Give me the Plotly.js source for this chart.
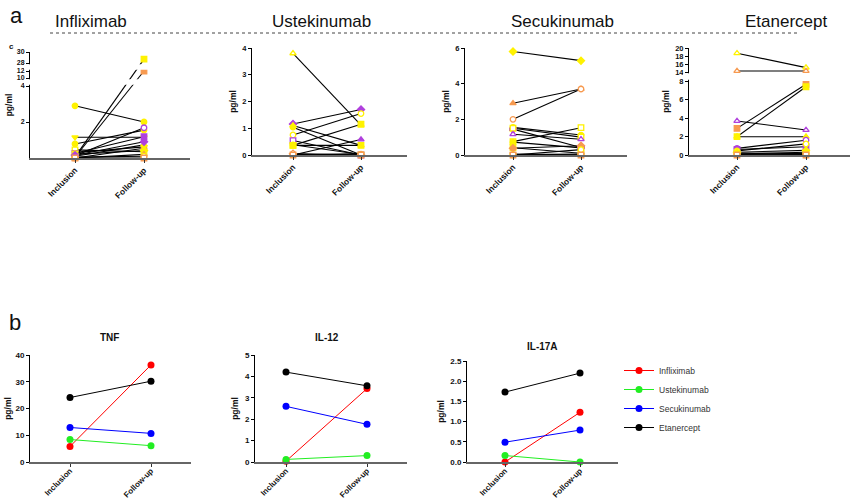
<!DOCTYPE html>
<html><head><meta charset="utf-8">
<script src="https://cdn.plot.ly/plotly-3.0.1.min.js"></script>
<style>html,body{margin:0;padding:0;background:#fff}#chart{width:851px;height:502px}</style>
</head><body><div id="chart"></div>
<script>
// ---------- DATA ----------
const timepoints = ['Inclusion', 'Follow-up'];
const drugs = ['Infliximab', 'Ustekinumab', 'Secukinumab', 'Etanercept'];

// Panel a: individual patients (pg/ml)
const inflixIncl = [2.9, 1.15, 0.78, 0.45, 0.26, 0.12, 0.06, 0.04, 0.0, 0.1, 0.2, 0.3, 0.0, 0.05, 0.15, 0.0];
const inflixFU   = [2.0, 1.15, 1.55, 0.35, 1.18, 1.68, 28.7, 12.0, 0.54, 0.73, 0.42, 0.62, 0.2, 0.1, 0.9, 0.0];
const inflixSym  = ['circle','triangle-down','circle','square','square','circle','square','square','circle','triangle-up','diamond','triangle-down','triangle-up','circle','diamond','square'];
const inflixCol  = ['y','y','y','y','p','p','y','o','o','y','y','y','o','y','p','o'];
const inflixFill = [1,1,1,0,1,0,1,1,0,1,1,1,1,0,1,0];

const usteIncl = [3.8, 1.16, 1.1, 1.04, 0.75, 0.54, 0.36, 0.36, 0.38, 0.0, 0.02, 0.0, 0.05, 0.0];
const usteFU   = [1.12, 1.7, 0.36, 0.0, 1.55, 0.0, 1.15, 0.36, 0.02, 0.58, 0.0, 0.05, 0.0, 0.0];
const usteSym  = ['triangle-up','diamond','triangle-up','circle','circle','square','square','square','circle','triangle-up','circle','triangle-down','diamond','square'];
const usteCol  = ['y','p','y','y','y','p','y','y','y','p','o','y','o','o'];
const usteFill = [0,1,1,1,0,0,1,1,1,1,1,1,0,0];

const secuIncl = [5.8, 2.9, 2.0, 1.55, 1.45, 1.5, 1.16, 0.75, 0.72, 0.41, 0.38, 0.02, 0.05, 0.0, 0.0];
const secuFU   = [5.29, 3.7, 3.7, 1.12, 0.42, 1.0, 0.88, 1.53, 0.4, 0.1, 0.52, 0.05, 0.0, 0.3, 0.0];
const secuSym  = ['diamond','triangle-up','circle','circle','cross','square','triangle-up','square','circle','square','diamond','circle','triangle-down','circle','square'];
const secuCol  = ['y','o','o','y','p','y','p','y','y','y','o','y','o','y','o'];
const secuFill = [1,1,0,1,1,0,0,0,1,1,1,1,1,0,0];

const etanIncl = [18.7, 14.25, 3.67, 2.88, 1.98, 1.98, 0.72, 0.6, 0.45, 0.3, 0.1, 0.0, 0.05, 0.2, 0.0];
const etanFU   = [15.1, 14.25, 2.7, 7.64, 7.38, 1.98, 1.6, 0.9, 1.2, 0.5, 0.3, 0.05, 0.0, 0.15, 0.0];
const etanSym  = ['triangle-up','triangle-up','triangle-up','square','square','triangle-up','circle','square','circle','diamond','circle','triangle-down','circle','square','square'];
const etanCol  = ['y','o','p','o','y','y','p','p','y','y','y','o','o','y','o'];
const etanFill = [0,0,0,1,1,1,0,1,0,1,1,1,0,1,0];

// Panel b: group values (pg/ml), order = drugs
const tnfIncl  = [5.8, 8.4, 12.9, 24.1];
const tnfFU    = [36.3, 6.1, 10.7, 30.2];
const il12Incl = [0.04, 0.12, 2.6, 4.2];
const il12FU   = [3.43, 0.3, 1.76, 3.56];
const il17Incl = [0.0, 0.16, 0.49, 1.73];
const il17FU   = [1.23, 0.0, 0.79, 2.2];
const cytokines = ['TNF', 'IL-12', 'IL-17A'];

// Axis ticks
const inflixTicks = [2, 4, 10, 12, 28, 30];
const etanTicks = [0, 2, 4, 6, 8, 14, 16, 18, 20];

// ---------- STYLE / LAYOUT ----------
const W = 851, H = 502;
const px = x => x / W, py = y => 1 - y / H;
const FONT = 'Liberation Sans, Arial, sans-serif';
const palette = {y: '#FFF200', o: '#F79A50', p: '#B040DD'};
const drugColors = ['#FF0000', '#22EE22', '#0000FF', '#000000'];

// piecewise (broken) axis scales: [value, axis position]
const inflixScale = [[0,0],[4,4],[10,4.444],[12,4.833],[28,5.278],[30,5.889]];
const etanScale = [[0,0],[8,8],[14,8.973],[20,11.568]];
const identity = [[0,0],[1,1]];
function mapper(pairs) {
  return v => {
    if (pairs === identity) return v;
    for (let i = 1; i < pairs.length; i++) {
      const [a0, b0] = pairs[i-1], [a1, b1] = pairs[i];
      if (v <= a1 || i === pairs.length - 1) return b0 + (v - a0) * (b1 - b0) / (a1 - a0);
    }
  };
}

// boxes: [left, right, top, bottom] px ; incl/fu px
const boxes = [[30,190,52,158],[252,407,48,155],[465,627,48,155],[689,850,48,155],
               [30,191,355,462],[255,407,355,462],[467,618,361,462]];
const inclPx = [75,293,513,737,70,286,505];
const fuPx   = [144,361,581,806,151,367,580];
const yTop = [5.889, 4, 6, 11.568, 40, 5, 2.5];

const layout = {
  width: W, height: H, margin: {l:0, r:0, t:0, b:0},
  paper_bgcolor: '#fff', plot_bgcolor: 'rgba(0,0,0,0)',
  showlegend: true,
  legend: {x: px(619), y: py(356), xanchor: 'left', yanchor: 'top', font: {family: FONT, size: 8.5, color: '#333'},
           bgcolor: 'rgba(0,0,0,0)', itemwidth: 30, tracegroupgap: 0},
  annotations: [], shapes: []
};

boxes.forEach((b, i) => {
  const n = i + 1;
  const unit = fuPx[i] - inclPx[i];
  const ytickfont = {family: FONT, size: i < 4 ? 7.5 : 8, weight: 'bold', color: '#111'};
  const xtickfont = {family: FONT, size: i < 4 ? 8.5 : 8, weight: 'bold', color: '#111'};
  layout['xaxis' + n] = {
    domain: [px(b[0]), px(b[1])], anchor: 'y' + n,
    range: [-(inclPx[i] - b[0]) / unit, (b[1] - inclPx[i]) / unit],
    tickvals: [0, 1], ticktext: timepoints, tickangle: -45,
    showline: true, linecolor: '#666', linewidth: 2, ticks: 'outside', ticklen: 3, tickcolor: '#333',
    ticklabelstandoff: i < 4 ? -1 : -4,
    showgrid: false, zeroline: false, tickfont: xtickfont, fixedrange: true
  };
  const ya = {
    domain: [py(b[3]), py(b[2])], anchor: 'x' + n, range: [0, yTop[i]],
    showline: true, linecolor: '#000', linewidth: 1, ticks: 'outside', ticklen: 3, tickcolor: '#000',
    showgrid: false, zeroline: false, tickfont: ytickfont, fixedrange: true,
    title: {text: 'pg/ml', font: {family: FONT, size: 8.5, weight: 'bold', color: '#111'}, standoff: i === 0 || i === 4 ? 2 : 4}
  };
  if (i === 0) { const m = mapper(inflixScale); ya.tickvals = inflixTicks.map(m); ya.ticktext = inflixTicks.map(String); ya.tickfont = Object.assign({}, ytickfont, {size: 7}); }
  else if (i === 3) { const m = mapper(etanScale); ya.tickvals = etanTicks.map(m); ya.ticktext = etanTicks.map(String); }
  else if (i === 4) ya.dtick = 10;
  else if (i === 6) { ya.dtick = 0.5; ya.tickformat = '.1f'; }
  else if (i === 2) ya.dtick = 2;
  else ya.dtick = 1;
  layout['yaxis' + n] = ya;
});

// breaks on broken axes
function addBreaks(pairs, gaps, n, i, pxPerUnit) {
  const m = mapper(pairs);
  const inset = 1.2 / pxPerUnit;
  gaps.forEach(g => {
    layout.shapes.push({type: 'rect', xref: 'paper', yref: 'y' + n,
      x0: px(boxes[i][0] - 6), x1: px(boxes[i][1]), y0: m(g[0]) + inset, y1: m(g[1]) - inset,
      fillcolor: '#fff', line: {width: 0}, layer: 'above'});
  });
}
addBreaks(inflixScale, [[4,10],[12,28]], 1, 0, 18);
addBreaks(etanScale, [[8,14]], 4, 3, 9.25);

// ---------- TRACES ----------
const traces = [];
const panelA = [
  [inflixIncl, inflixFU, inflixSym, inflixCol, inflixFill, inflixScale],
  [usteIncl, usteFU, usteSym, usteCol, usteFill, identity],
  [secuIncl, secuFU, secuSym, secuCol, secuFill, identity],
  [etanIncl, etanFU, etanSym, etanCol, etanFill, etanScale]
];
panelA.forEach((p, i) => {
  const [inc, fu, sym, col, fill, sc] = p;
  const m = mapper(sc);
  const x = [], y = [], syms = [], fc = [], lc = [];
  inc.forEach((v, k) => {
    const c = palette[col[k]];
    x.push(0, 1, null); y.push(m(v), m(fu[k]), null);
    syms.push(sym[k], sym[k], 'circle');
    fc.push(fill[k] ? c : '#fff', fill[k] ? c : '#fff', '#fff');
    lc.push(c, c, c);
  });
  traces.push({type: 'scatter', mode: 'lines+markers', x: x, y: y, xaxis: 'x' + (i+1), yaxis: 'y' + (i+1),
    connectgaps: false, showlegend: false, cliponaxis: false, hoverinfo: 'skip',
    line: {color: '#000', width: 1.1},
    marker: {symbol: syms, size: 5.5, color: fc, line: {color: lc, width: 1.3}}});
});

const panelB = [[tnfIncl, tnfFU], [il12Incl, il12FU], [il17Incl, il17FU]];
panelB.forEach((p, j) => {
  drugs.forEach((d, k) => {
    traces.push({type: 'scatter', mode: 'lines+markers', name: d, legendgroup: d, showlegend: j === 0,
      x: [0, 1], y: [p[0][k], p[1][k]], xaxis: 'x' + (j + 5), yaxis: 'y' + (j + 5), cliponaxis: false,
      line: {color: drugColors[k], width: 1}, marker: {symbol: 'circle', size: 7, color: drugColors[k]}});
  });
});

// ---------- TEXT ----------
const ann = (text, x, y, size, weight, extra) => layout.annotations.push(Object.assign({
  text: text, x: px(x), y: py(y), xref: 'paper', yref: 'paper', showarrow: false,
  xanchor: 'center', yanchor: 'middle', font: {family: FONT, size: size, color: '#111', weight: weight}}, extra || {}));
ann('a', 16, 16, 22, 'normal');
ann('b', 15, 322, 22, 'normal');
ann('c', 11, 46, 8, 'bold');
ann('Infliximab', 91, 22, 17, 'normal');
ann('Ustekinumab', 321, 22, 17, 'normal');
ann('Secukinumab', 562, 22, 17, 'normal');
ann('Etanercept', 786, 22, 17, 'normal');
ann('TNF', 110, 337, 10, 'bold');
ann('IL-12', 327, 337, 10, 'bold');
ann('IL-17A', 542, 346, 10, 'bold');
layout.shapes.push({type: 'line', xref: 'paper', yref: 'paper', x0: px(50), x1: px(797), y0: py(33), y1: py(33),
  line: {color: '#444', width: 1, dash: 'dot'}});

Plotly.newPlot('chart', traces, layout, {staticPlot: true, displayModeBar: false});
</script></body></html>
